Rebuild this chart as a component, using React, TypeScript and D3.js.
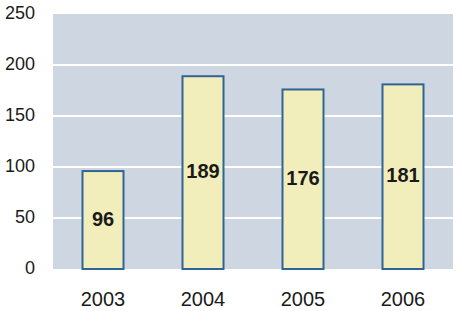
import React from "react";
import * as d3 from "d3";

const categories = ["2003", "2004", "2005", "2006"];
const values = [96, 189, 176, 181];
const yTicks = [0, 50, 100, 150, 200, 250];

export default function App() {
  const W = 458, H = 311;
  const left = 53, right = 453, top = 14, bottom = 269;
  const x = d3.scaleBand<string>().domain(categories).range([left, right]).paddingInner(0.59).paddingOuter(0.295);
  const y = d3.scaleLinear().domain([0, 250]).range([bottom, top]);
  return (
    <svg width={W} height={H} style={{ position: "absolute", left: 0, top: 0 }} fontFamily="Arial, Liberation Sans, sans-serif">
      <rect x={left} y={top} width={right - left} height={bottom - top} fill="#cdd6e1" />
      {yTicks.filter(t => t > 0 && t < 250).map(t => (
        <line key={t} x1={left} x2={right} y1={y(t)} y2={y(t)} stroke="#ffffff" strokeWidth={2} />
      ))}
      {yTicks.map(t => (
        <text key={t} x={35} y={y(t) - 1.5} dy="0.35em" textAnchor="end" fontSize={18} fill="#1a1a1a">{t}</text>
      ))}
      {categories.map((c, i) => {
        const bx = x(c)!;
        const bw = x.bandwidth();
        const v = values[i];
        return (
          <g key={c}>
            <rect x={bx} y={y(v)} width={bw} height={bottom - y(v)} fill="#f2eebb" stroke="#2e6496" strokeWidth={2} />
            <text x={bx + bw / 2} y={(y(v) + bottom) / 2 - 1.5} dy="0.35em" textAnchor="middle" fontSize={20} fontWeight="bold" fill="#1a1a1a">{v}</text>
            <text x={bx + bw / 2} y={299} dy="0.35em" textAnchor="middle" fontSize={20} fill="#1a1a1a">{c}</text>
          </g>
        );
      })}
    </svg>
  );
}
